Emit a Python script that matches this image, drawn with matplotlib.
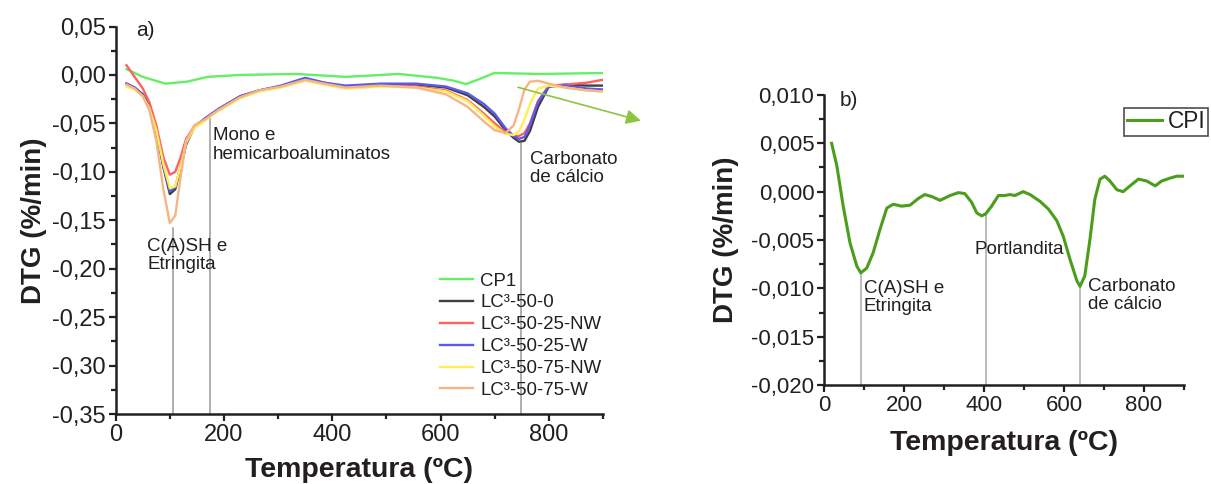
import matplotlib
matplotlib.use("Agg")
import matplotlib.pyplot as plt
from matplotlib.ticker import MultipleLocator, FuncFormatter, FixedLocator

plt.rcParams['font.family'] = ['Liberation Sans', 'DejaVu Sans']

# ---------------- data: panel a ----------------
T_cp1 = [20, 50, 92, 131, 170, 229, 333, 425, 523, 594, 625, 647, 673, 699, 784, 900]
cp1 = [0.006, -0.002, -0.009, -0.007, -0.002, 0.0, 0.001, -0.002, 0.001, -0.003,
       -0.006, -0.0095, -0.004, 0.002, 0.001, 0.002]

T_lc = [20, 35, 50, 62, 75, 88, 100, 110, 120, 130, 145, 165, 190, 230, 265, 305,
        350, 385, 425, 490, 555, 610, 650, 680, 700, 720, 735, 745, 755, 765, 780,
        800, 830, 870, 900]
lc_0 = [-0.009, -0.013, -0.020, -0.032, -0.058, -0.095, -0.123, -0.118, -0.095, -0.072,
        -0.054, -0.045, -0.036, -0.022, -0.016, -0.012, -0.004, -0.008, -0.013, -0.010,
        -0.010, -0.013, -0.021, -0.033, -0.043, -0.057, -0.065, -0.069, -0.068, -0.058,
        -0.033, -0.012, -0.010, -0.011, -0.011]
lc_25_nw = [0.010, -0.002, -0.014, -0.028, -0.052, -0.085, -0.103, -0.100, -0.085, -0.066,
            -0.053, -0.045, -0.035, -0.022, -0.016, -0.012, -0.005, -0.009, -0.013, -0.011,
            -0.012, -0.016, -0.026, -0.040, -0.050, -0.059, -0.063, -0.063, -0.060, -0.050,
            -0.027, -0.011, -0.010, -0.008, -0.005]
lc_25_w = [-0.009, -0.013, -0.021, -0.034, -0.058, -0.094, -0.120, -0.116, -0.094, -0.071,
           -0.054, -0.045, -0.035, -0.022, -0.016, -0.011, -0.003, -0.008, -0.011, -0.009,
           -0.009, -0.012, -0.019, -0.030, -0.040, -0.055, -0.063, -0.066, -0.064, -0.052,
           -0.028, -0.012, -0.011, -0.014, -0.015]
lc_75_nw = [-0.012, -0.015, -0.022, -0.034, -0.057, -0.092, -0.117, -0.115, -0.094, -0.070,
            -0.055, -0.047, -0.037, -0.024, -0.017, -0.013, -0.006, -0.010, -0.014, -0.012,
            -0.013, -0.017, -0.027, -0.042, -0.053, -0.061, -0.062, -0.058, -0.046, -0.030,
            -0.014, -0.011, -0.013, -0.016, -0.017]
lc_75_w = [-0.010, -0.014, -0.022, -0.036, -0.068, -0.118, -0.153, -0.145, -0.105, -0.068,
           -0.052, -0.046, -0.036, -0.023, -0.016, -0.012, -0.005, -0.009, -0.013, -0.011,
           -0.013, -0.020, -0.033, -0.048, -0.057, -0.060, -0.052, -0.035, -0.015, -0.007,
           -0.006, -0.009, -0.013, -0.016, -0.017]

labels_a = ['CP1', 'LC³-50-0', 'LC³-50-25-NW', 'LC³-50-25-W', 'LC³-50-75-NW', 'LC³-50-75-W']
colors_a = ['#66ee66', '#404040', '#ff6060', '#5a5aee', '#ffee55', '#f5b585']

peaks_a_T = [106, 175, 749]
peaks_a_top = [-0.158, -0.044, -0.070]
peak_labels_a = ['C(A)SH e\nEtringita', 'Mono e\nhemicarboaluminatos', 'Carbonato\nde cálcio']
peak_text_a = [(58, -0.168), (180, -0.054), (765, -0.078)]

# ---------------- data: panel b ----------------
T_cpi = [19, 32, 48, 65, 82, 92, 107, 123, 140, 157, 173, 194, 215, 236, 252, 269, 290,
         315, 336, 352, 369, 382, 394, 404, 419, 436, 452, 465, 477, 498, 515, 540, 561,
         582, 598, 615, 632, 640, 652, 665, 677, 690, 702, 715, 732, 748, 765, 786, 807,
         828, 844, 865, 882, 898]
cpi = [0.0050, 0.0027, -0.0015, -0.0053, -0.0077, -0.0084, -0.0079, -0.0063, -0.0039,
       -0.0017, -0.0013, -0.0015, -0.0014, -0.0007, -0.0003, -0.0005, -0.0009, -0.0004,
       -0.0001, -0.0002, -0.0011, -0.0022, -0.0025, -0.0023, -0.0015, -0.0004, -0.0004,
       -0.0003, -0.0004, 0.0000, -0.0003, -0.0010, -0.0018, -0.0030, -0.0046, -0.0070,
       -0.0092, -0.0098, -0.0087, -0.0049, -0.0008, 0.0013, 0.0016, 0.0011, 0.0002,
       0.0000, 0.0006, 0.0013, 0.0011, 0.0006, 0.0011, 0.0014, 0.0016, 0.0016]

peaks_b_T = [92, 404, 640]
peaks_b_top = [-0.0085, -0.0024, -0.0099]
peak_labels_b = ['C(A)SH e\nEtringita', 'Portlandita', 'Carbonato\nde cálcio']
peak_text_b = [(100, -0.0091, 'top'), (376, -0.0060, 'center'), (659, -0.0089, 'top')]

TXT = '#231f20'
W, H = 1211, 484
fig = plt.figure(figsize=(W / 100, H / 100), dpi=100)

ax1 = fig.add_axes([115.7 / W, 1 - 414 / H, (603 - 115.7) / W, (414 - 26.5) / H])
ax2 = fig.add_axes([824 / W, 1 - 385 / H, (1184 - 824) / W, (385 - 95) / H])


def style(ax, fs):
    for s in ['top', 'right']:
        ax.spines[s].set_visible(False)
    for s in ['left', 'bottom']:
        ax.spines[s].set_linewidth(1.8)
        ax.spines[s].set_color(TXT)
    ax.tick_params(which='major', direction='out', length=5, width=1.6, colors=TXT,
                   labelsize=fs, pad=2)
    ax.tick_params(which='minor', direction='out', length=3.5, width=1.6, colors=TXT)
    ax.xaxis.set_major_locator(MultipleLocator(200))
    ax.xaxis.set_minor_locator(MultipleLocator(100))
    ax.set_xlim(0, 900)


# ---- panel a
series = [(T_cp1, cp1), (T_lc, lc_0), (T_lc, lc_25_nw), (T_lc, lc_25_w), (T_lc, lc_75_nw), (T_lc, lc_75_w)]
for (tx, vy), lab, col in zip(series, labels_a, colors_a):
    ax1.plot(tx, vy, color=col, lw=1.7, label=lab, solid_joinstyle='round')

for t, top in zip(peaks_a_T, peaks_a_top):
    ax1.plot([t, t], [-0.35, top], color='#999999', lw=1.1, zorder=1)
for lab, (tx, ty) in zip(peak_labels_a, peak_text_a):
    ax1.text(tx, ty, lab, fontsize=13.5, color=TXT, va='top', ha='left', linespacing=1.1)
ax1.text(37, 0.046, 'a)', fontsize=15, color=TXT, va='center', ha='left')

ax1.annotate('', xy=(975, -0.048), xytext=(738, -0.012),
             arrowprops=dict(arrowstyle='-|>', color='#8cc63f', lw=1.2, mutation_scale=22),
             annotation_clip=False)

style(ax1, 17)
ax1.set_ylim(-0.35, 0.05)
ax1.yaxis.set_major_locator(FixedLocator([0.05 - 0.05 * i for i in range(9)]))
ax1.yaxis.set_minor_locator(MultipleLocator(0.025))
ax1.yaxis.set_major_formatter(FuncFormatter(lambda v, p: f"{round(v, 2):.2f}".replace('.', ',').replace('-0,00', '0,00')))
ax1.set_xlabel('Temperatura (ºC)', fontsize=20.5, fontweight='bold', color=TXT)
ax1.set_ylabel('DTG (%/min)', fontsize=20, fontweight='bold', color=TXT)
ax1.xaxis.set_label_coords(0.5, -0.11)
ax1.yaxis.set_label_coords(-0.142, 0.5)
leg1 = ax1.legend(loc='upper left', bbox_to_anchor=(0.6655, 0.365), frameon=False,
                  fontsize=13.4, handlelength=1.75, handletextpad=0.4, labelspacing=0.26,
                  borderpad=0, borderaxespad=0)
for t in leg1.get_texts():
    t.set_color(TXT)

# ---- panel b
ax2.plot(T_cpi, cpi, color='#4a9e1c', lw=2.2, label='CPI', solid_joinstyle='round')
for t, top in zip(peaks_b_T, peaks_b_top):
    ax2.plot([t, t], [-0.020, top], color='#aaaaaa', lw=1.1, zorder=1)
for lab, (tx, ty, va) in zip(peak_labels_b, peak_text_b):
    ax2.text(tx, ty, lab, fontsize=13.5, color=TXT, va=va, ha='left', linespacing=1.1)
ax2.text(40, 0.0094, 'b)', fontsize=15, color=TXT, va='center', ha='left')

style(ax2, 16)
ax2.set_ylim(-0.020, 0.010)
ax2.yaxis.set_major_locator(FixedLocator([0.010 - 0.005 * i for i in range(7)]))
ax2.yaxis.set_minor_locator(MultipleLocator(0.0025))
ax2.yaxis.set_major_formatter(FuncFormatter(lambda v, p: f"{round(v, 3):.3f}".replace('.', ',').replace('-0,000', '0,000')))
ax2.set_xlabel('Temperatura (ºC)', fontsize=20.5, fontweight='bold', color=TXT)
ax2.set_ylabel('DTG (%/min)', fontsize=20, fontweight='bold', color=TXT)
ax2.xaxis.set_label_coords(0.5, -0.155)
ax2.yaxis.set_label_coords(-0.235, 0.5)
leg2 = ax2.legend(loc='upper left', bbox_to_anchor=(1124.3 / W, 1 - 107.7 / H),
                  bbox_transform=fig.transFigure, frameon=True, fancybox=False,
                  edgecolor='#231f20', fontsize=16.3, handlelength=1.55,
                  handletextpad=0.25, borderpad=0.12, borderaxespad=0)
leg2.get_frame().set_linewidth(1.2)
for t in leg2.get_texts():
    t.set_color(TXT)

fig.savefig('out.png', dpi=100)
